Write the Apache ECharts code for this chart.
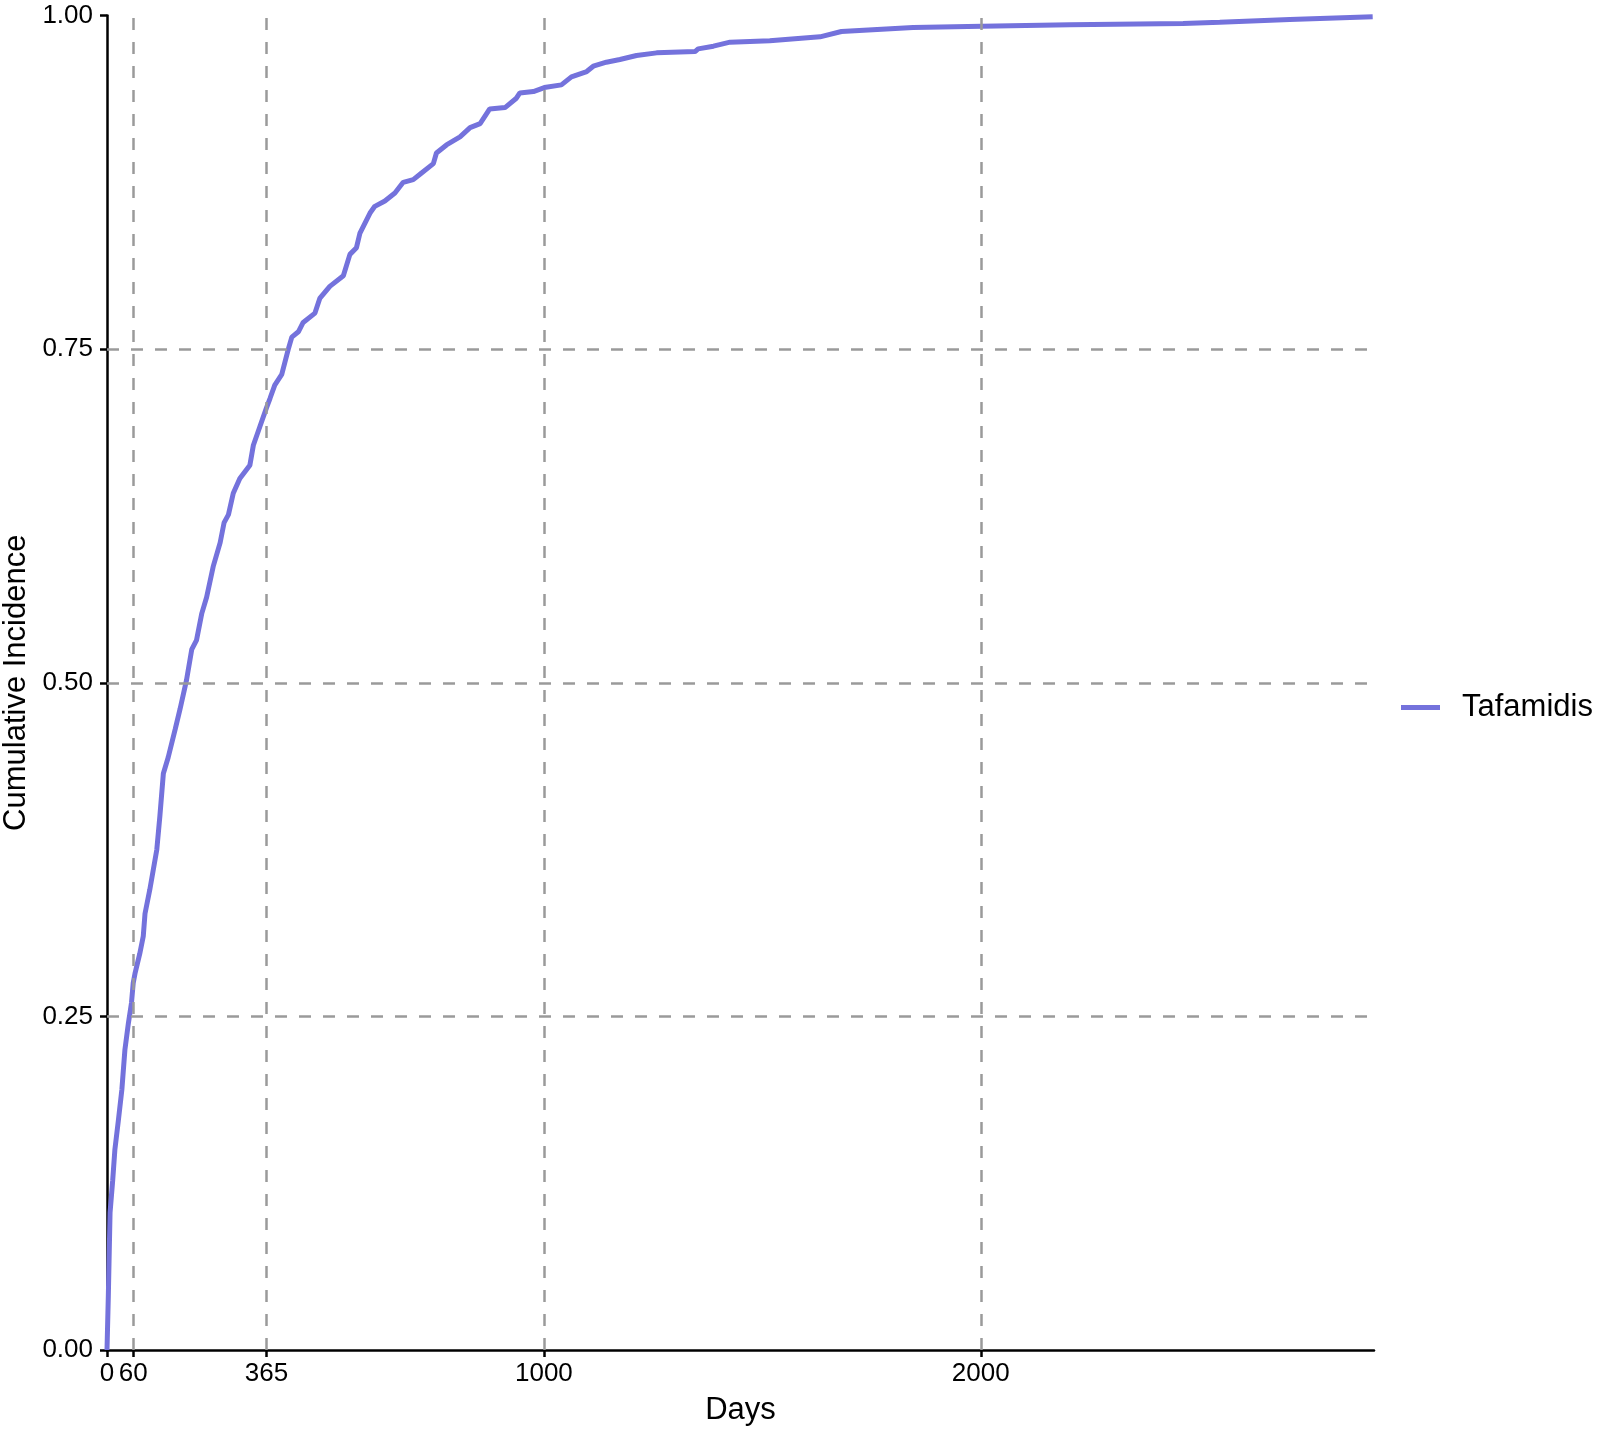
<!DOCTYPE html>
<html>
<head>
<meta charset="utf-8">
<title>Cumulative Incidence</title>
<script src="https://cdn.jsdelivr.net/npm/echarts@6/dist/echarts.min.js"></script>
<style>
  html, body { margin: 0; padding: 0; background: #fff; }
  #chart { width: 1600px; height: 1432px; }
</style>
</head>
<body>
<div id="chart"></div>
<script>
const days = [0, 3, 7, 13, 18, 26, 34, 41, 49, 56, 60, 64, 75, 83, 87, 98, 106, 114, 121, 129,
  140, 156, 167, 182, 194, 205, 217, 228, 243, 259, 268, 278, 289, 304, 327, 335, 350, 365,
  373, 384, 400, 415, 423, 438, 449, 476, 487, 510, 541, 556, 571, 579, 602, 613, 636, 659,
  678, 701, 720, 747, 754, 777, 808, 831, 854, 876, 911, 937, 945, 976, 1001, 1040, 1063,
  1098, 1113, 1143, 1174, 1212, 1258, 1346, 1353, 1388, 1426, 1517, 1632, 1681, 1845, 2002,
  2204, 2463, 2547, 2707, 2897];
const incidence = [0, 0.04, 0.103, 0.127, 0.15, 0.172, 0.195, 0.225, 0.245, 0.26, 0.275, 0.282,
  0.297, 0.31, 0.327, 0.345, 0.36, 0.375, 0.4, 0.432, 0.444, 0.465, 0.48, 0.502, 0.525, 0.532,
  0.552, 0.564, 0.587, 0.605, 0.62, 0.626, 0.642, 0.653, 0.663, 0.678, 0.692, 0.706, 0.713,
  0.723, 0.731, 0.75, 0.759, 0.763, 0.77, 0.777, 0.788, 0.797, 0.805, 0.821, 0.826, 0.837,
  0.852, 0.857, 0.861, 0.867, 0.875, 0.877, 0.882, 0.889, 0.897, 0.903, 0.909, 0.916, 0.919,
  0.93, 0.931, 0.938, 0.942, 0.943, 0.946, 0.948, 0.954, 0.958, 0.962, 0.965, 0.967, 0.97,
  0.972, 0.973, 0.975, 0.977, 0.98, 0.981, 0.984, 0.988, 0.991, 0.992, 0.993, 0.994, 0.995,
  0.997, 0.999];

const seriesName = 'Tafamidis';
const xTicks = [0, 60, 365, 1000, 2000];
const xGridLines = [60, 365, 1000, 2000];
const yGridLines = [0.25, 0.5, 0.75];

const font = 'Liberation Sans, Arial, Helvetica, sans-serif';
const gridStyle = { color: '#9a9a9a', width: 2.5, type: [12, 12] };
const lineColor = '#7472DC';

const chart = echarts.init(document.getElementById('chart'));

const option = {
  animation: false,
  backgroundColor: '#fff',
  textStyle: { fontFamily: font, color: '#000' },
  grid: {
    left: 107, right: 226, top: 15.5, bottom: 82,
    containLabel: false, outerBoundsMode: 'none'
  },
  legend: {
    data: [{ name: seriesName, icon: 'rect' }],
    left: 1396,
    top: 687,
    itemWidth: 39,
    itemHeight: 5,
    textStyle: { fontSize: 31, color: '#000', fontFamily: font, padding: [0, 0, 0, 17] }
  },
  xAxis: {
    type: 'value',
    min: 0,
    max: 2900,
    name: 'Days',
    nameLocation: 'middle',
    nameGap: 45,
    nameTextStyle: { fontSize: 31, color: '#000', fontFamily: font },
    axisLine: { lineStyle: { color: '#000', width: 2.5 } },
    axisTick: { customValues: xTicks, length: 7, lineStyle: { color: '#000', width: 2.5 } },
    axisLabel: {
      customValues: xTicks, fontSize: 26, color: '#000', margin: 11, fontFamily: font,
      formatter: v => String(v)
    },
    splitLine: { show: false }
  },
  yAxis: {
    type: 'value',
    min: 0,
    max: 1,
    interval: 0.25,
    name: 'Cumulative Incidence',
    nameLocation: 'middle',
    nameGap: 63,
    nameTextStyle: { fontSize: 31, color: '#000', fontFamily: font },
    axisLine: { show: true, lineStyle: { color: '#000', width: 2.5 } },
    axisTick: { show: true, length: 7, lineStyle: { color: '#000', width: 2.5 } },
    axisLabel: {
      fontSize: 26, color: '#000', margin: 14, fontFamily: font,
      formatter: v => v.toFixed(2)
    },
    splitLine: { show: false }
  },
  series: [{
    name: seriesName,
    type: 'line',
    data: days.map((d, i) => [d, incidence[i]]),
    showSymbol: false,
    symbol: 'none',
    lineStyle: { color: lineColor, width: 5 },
    itemStyle: { color: lineColor },
    markLine: {
      silent: true,
      symbol: 'none',
      label: { show: false },
      lineStyle: gridStyle,
      data: xGridLines.map(v => ({ xAxis: v })).concat(yGridLines.map(v => ({ yAxis: v })))
    }
  }]
};

chart.setOption(option);
</script>
</body>
</html>
